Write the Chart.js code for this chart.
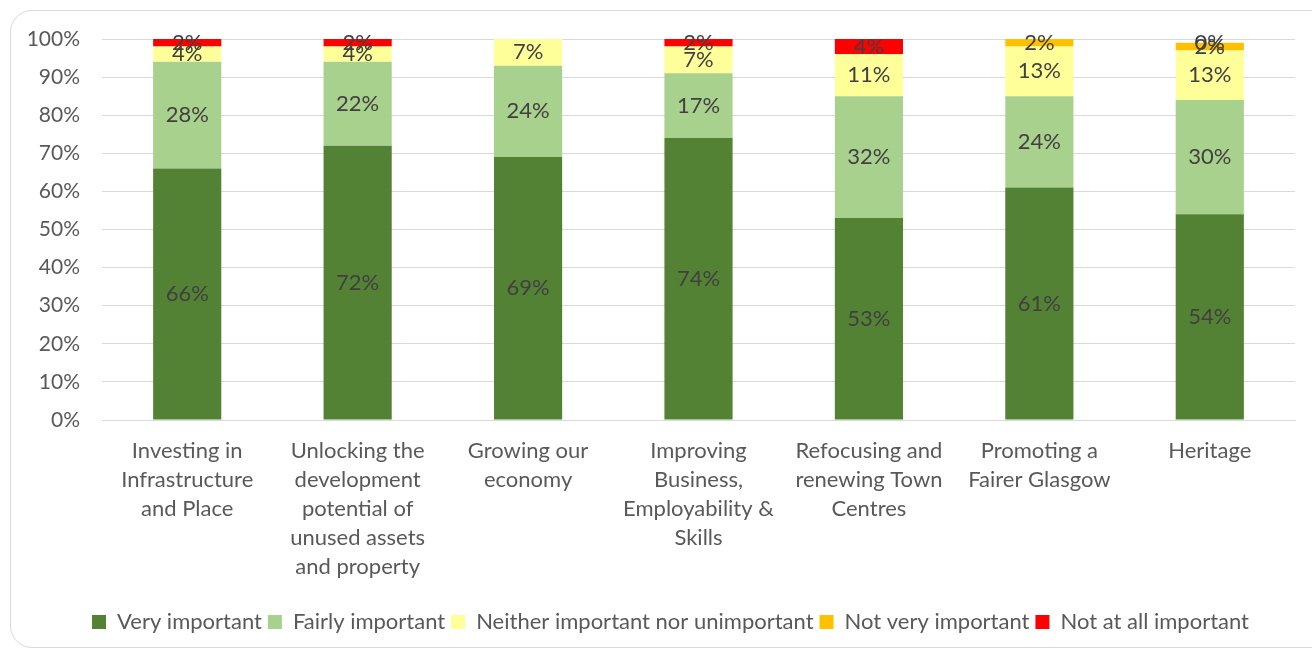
<!DOCTYPE html>
<html>
<head>
<meta charset="utf-8">
<script src="https://cdn.jsdelivr.net/npm/chart.js@4"></script>
<style>
  html, body { margin: 0; padding: 0; background: #ffffff; }
  body { width: 1312px; height: 653px; position: relative; overflow: hidden; }
  #frame {
    position: absolute; left: 10px; top: 10px; width: 1330px; height: 638px;
    border: 1px solid #d9d9d9; border-radius: 22px; box-sizing: border-box;
  }
  #wrap { position: absolute; left: 0; top: 0; width: 1312px; height: 653px; }
</style>
</head>
<body>
<div id="frame"></div>
<div id="wrap"><canvas id="chart" width="1312" height="653"></canvas></div>
<script>
// Categories (multi-line axis labels)
const categories = [
  ['Investing in', 'Infrastructure', 'and Place'],
  ['Unlocking the', 'development', 'potential of', 'unused assets', 'and property'],
  ['Growing our', 'economy'],
  ['Improving', 'Business,', 'Employability &', 'Skills'],
  ['Refocusing and', 'renewing Town', 'Centres'],
  ['Promoting a', 'Fairer Glasgow'],
  ['Heritage']
];

// Percent of responses per category
const veryImportant     = [66, 72, 69, 74, 53, 61, 54];
const fairlyImportant   = [28, 22, 24, 17, 32, 24, 30];
const neitherImportant  = [4, 4, 7, 7, 11, 13, 13];
const notVeryImportant  = [null, null, null, null, null, 2, 2];
const notAtAllImportant = [2, 2, null, 2, 4, null, 0];

const yTicks = [0, 10, 20, 30, 40, 50, 60, 70, 80, 90, 100];

const FONT = 'Lato, "Open Sans", sans-serif';

// Draws each segment's value in its middle
const segmentLabels = {
  id: 'segmentLabels',
  afterDatasetsDraw(chart) {
    const ctx = chart.ctx;
    ctx.save();
    ctx.font = '22px ' + FONT;
    ctx.fillStyle = '#404040';
    ctx.textAlign = 'center';
    ctx.textBaseline = 'middle';
    chart.data.datasets.forEach((ds, di) => {
      const meta = chart.getDatasetMeta(di);
      meta.data.forEach((bar, i) => {
        const v = ds.data[i];
        if (v === null || v === undefined) return;
        const p = bar.getProps(['x', 'y', 'base'], true);
        ctx.fillText(Math.round(v) + '%', p.x, (p.y + p.base) / 2);
      });
    });
    ctx.restore();
  }
};

// Centres the legend row under the whole frame rather than the padded canvas
const legendOffset = {
  id: 'legendOffset',
  afterLayout(chart) {
    const shift = 23;
    chart.legend.left += shift;
    chart.legend.right += shift;
  }
};

new Chart(document.getElementById('chart'), {
  type: 'bar',
  data: {
    labels: categories,
    datasets: [
      { label: 'Very important', data: veryImportant, backgroundColor: '#548235' },
      { label: 'Fairly important', data: fairlyImportant, backgroundColor: '#a9d18e' },
      { label: 'Neither important nor unimportant', data: neitherImportant, backgroundColor: '#ffff99' },
      { label: 'Not very important', data: notVeryImportant, backgroundColor: '#ffc000' },
      { label: 'Not at all important', data: notAtAllImportant, backgroundColor: '#ff0000' }
    ]
  },
  options: {
    responsive: false,
    animation: false,
    devicePixelRatio: 1,
    layout: { padding: { left: 0, right: 17, top: 39, bottom: 10 } },
    datasets: { bar: { barPercentage: 0.4, categoryPercentage: 1.0, borderWidth: 0 } },
    plugins: {
      legend: {
        position: 'bottom',
        labels: {
          font: { family: FONT, size: 22 },
          color: '#595959',
          boxWidth: 14,
          boxHeight: 14,
          padding: 6
        }
      },
      tooltip: { enabled: false }
    },
    scales: {
      x: {
        stacked: true,
        grid: { display: false, drawTicks: false },
        border: { color: '#d9d9d9', width: 1 },
        ticks: {
          font: { family: FONT, size: 22, lineHeight: 1.32 },
          color: '#595959',
          padding: 16,
          maxRotation: 0,
          autoSkip: false
        },
        afterFit(scale) { scale.height = 185; }
      },
      y: {
        stacked: true,
        min: 0,
        max: 100,
        afterBuildTicks(scale) { scale.ticks = yTicks.map(v => ({ value: v })); },
        grid: { color: '#d9d9d9', lineWidth: 1, drawTicks: false },
        border: { display: false },
        ticks: {
          font: { family: FONT, size: 21 },
          color: '#595959',
          padding: 22,
          callback: v => v + '%'
        },
        afterFit(scale) { scale.width = 102; }
      }
    }
  },
  plugins: [segmentLabels, legendOffset]
});
</script>
</body>
</html>
